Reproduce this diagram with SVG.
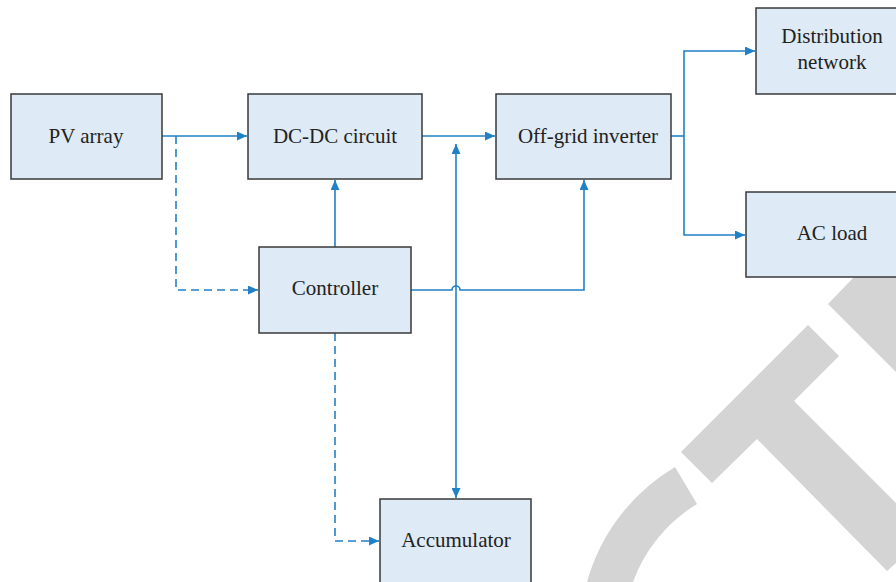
<svg xmlns="http://www.w3.org/2000/svg" width="896" height="582" viewBox="0 0 896 582">
<defs>
<style>
.box{fill:#deeaf5;stroke:#3a3a3a;stroke-width:1.5}
.lbl{font-family:'Liberation Serif','DejaVu Serif','Times New Roman',serif;font-size:21px;fill:#222;text-anchor:middle}
.ln{fill:none;stroke:#2180c6;stroke-width:1.6}
.dash{stroke-dasharray:8 5}
.wm{fill:#d4d4d4}
</style>
<marker id="ah" markerWidth="11" markerHeight="9" refX="10" refY="4.5" orient="auto" markerUnits="userSpaceOnUse">
<path d="M0,0 L10,4.5 L0,9 Z" fill="#2180c6"/>
</marker>
</defs>
<rect width="896" height="582" fill="#fff"/>
<g id="watermark">
<path class="wm" d="M828,304 L854,277 L896,277 L896,372 Z"/>
<path class="wm" d="M681,452 L808,325 L839,356 L794,401 L896,503 L896,563 L887,571 L757,439 L712,483 Z"/>
<path class="wm" d="M675,467 A195,195 0 0,0 587,582 L633,582 A152,152 0 0,1 697,504 Z"/>
</g>
<g id="connectors">
<line class="ln" x1="162" y1="136" x2="247" y2="136" marker-end="url(#ah)"/>
<polyline class="ln dash" points="176,136 176,290 258,290" marker-end="url(#ah)"/>
<line class="ln" x1="422" y1="136" x2="495" y2="136" marker-end="url(#ah)"/>
<line class="ln" x1="456" y1="250" x2="456" y2="144" marker-end="url(#ah)"/>
<line class="ln" x1="456" y1="250" x2="456" y2="498" marker-end="url(#ah)"/>
<line class="ln" x1="335" y1="247" x2="335" y2="180" marker-end="url(#ah)"/>
<path class="ln" d="M411,290 L452,290 A4,4 0 0,1 460,290 L584,290 L584,180" marker-end="url(#ah)"/>
<polyline class="ln dash" points="335,333 335,541 379,541" marker-end="url(#ah)"/>
<polyline class="ln" points="671,136 684,136"/>
<polyline class="ln" points="684,136 684,51 755,51" marker-end="url(#ah)"/>
<polyline class="ln" points="684,136 684,235 745,235" marker-end="url(#ah)"/>
</g>
<g id="pv-array"><rect class="box" x="11" y="94" width="151" height="85"/><text class="lbl" font-family="Liberation Serif, serif" x="86" y="143">PV array</text></g>
<g id="dcdc"><rect class="box" x="248" y="94" width="174" height="85"/><text class="lbl" font-family="Liberation Serif, serif" x="335" y="143">DC-DC circuit</text></g>
<g id="inverter"><rect class="box" x="496" y="94" width="175" height="85"/><text class="lbl" font-family="Liberation Serif, serif" x="588" y="143">Off-grid inverter</text></g>
<g id="distribution"><rect class="box" x="756" y="8" width="160" height="86"/><text class="lbl" font-family="Liberation Serif, serif" x="832" y="43">Distribution</text><text class="lbl" font-family="Liberation Serif, serif" x="832" y="69">network</text></g>
<g id="acload"><rect class="box" x="746" y="192" width="170" height="85"/><text class="lbl" font-family="Liberation Serif, serif" x="832" y="240">AC load</text></g>
<g id="controller"><rect class="box" x="259" y="247" width="152" height="86"/><text class="lbl" font-family="Liberation Serif, serif" x="335" y="295">Controller</text></g>
<g id="accumulator"><rect class="box" x="380" y="499" width="151" height="100"/><text class="lbl" font-family="Liberation Serif, serif" x="456" y="547">Accumulator</text></g>
</svg>
